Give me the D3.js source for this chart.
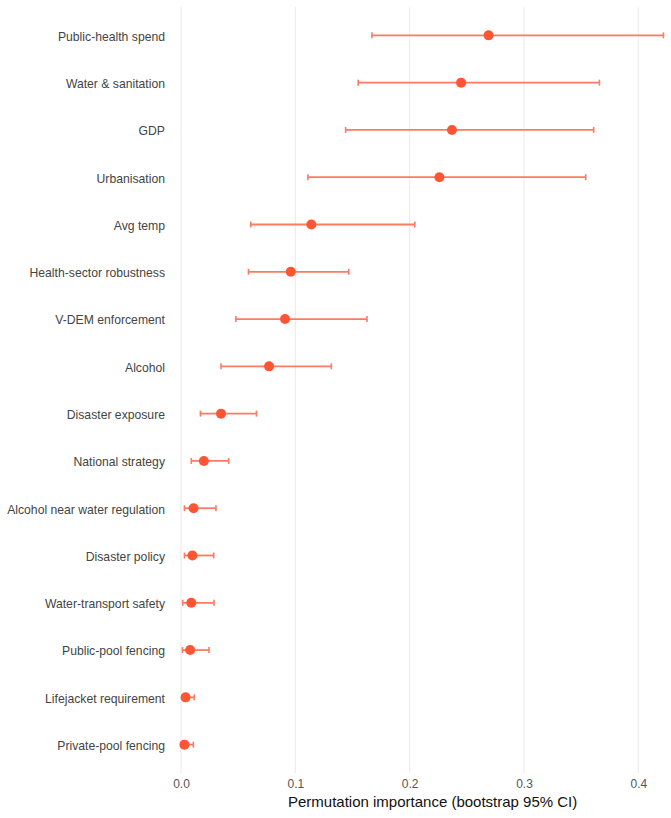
<!DOCTYPE html>
<html><head><meta charset="utf-8">
<script src="https://cdn.jsdelivr.net/npm/d3@7"></script>
<style>body{margin:0;background:#fff;} svg{display:block;}</style>
</head><body>
<svg id="chart" width="671" height="818"></svg>
<script>
const features = ["Public-health spend","Water & sanitation","GDP","Urbanisation","Avg temp","Health-sector robustness","V-DEM enforcement","Alcohol","Disaster exposure","National strategy","Alcohol near water regulation","Disaster policy","Water-transport safety","Public-pool fencing","Lifejacket requirement","Private-pool fencing"];
const importance = [0.269,0.245,0.237,0.226,0.114,0.096,0.091,0.077,0.035,0.020,0.011,0.010,0.009,0.008,0.004,0.003];
const ciLow = [0.167,0.155,0.144,0.111,0.061,0.059,0.048,0.035,0.017,0.009,0.003,0.003,0.0015,0.0012,0.001,0.0005];
const ciHigh = [0.422,0.366,0.361,0.354,0.2045,0.1467,0.1627,0.1315,0.066,0.0417,0.0306,0.0286,0.0289,0.0245,0.0116,0.0108];
const xTicks = [0.0,0.1,0.2,0.3,0.4];

const FONT = "Liberation Sans, Arial, sans-serif";
const svg = d3.select("#chart");
const x = d3.scaleLinear().domain([0,0.4]).range([181,638.3]);
const y = d3.scalePoint().domain(features).range([7,773]).padding(0.6);

// gridlines
svg.append("g").selectAll("line").data(xTicks).join("line")
  .attr("x1",d=>x(d)).attr("x2",d=>x(d)).attr("y1",7).attr("y2",773)
  .attr("stroke","#ebebeb").attr("stroke-width",1.1);

// x axis labels
const xAxis = d3.axisBottom(x).tickValues(xTicks).tickFormat(d3.format(".1f")).tickSize(0).tickPadding(0);
const gx = svg.append("g").attr("transform","translate(0,779)").call(xAxis);
gx.select(".domain").remove();
gx.selectAll("text").attr("fill","#555").attr("font-family",FONT).attr("font-size",12).attr("dy","0.71em");

// y axis labels
const yAxis = d3.axisLeft(y).tickSize(0).tickPadding(0);
const gy = svg.append("g").attr("transform","translate(165,0)").call(yAxis);
gy.select(".domain").remove();
gy.selectAll("text").attr("fill","#444").attr("font-family",FONT).attr("font-size",12.2).attr("dy","0.4em");

// axis title
svg.append("text").attr("x",x(0.2)+23).attr("y",807).attr("text-anchor","middle")
  .attr("font-family",FONT).attr("font-size",15).attr("fill","#111")
  .text("Permutation importance (bootstrap 95% CI)");

const rows = features.map((f,i)=>({f, v:importance[i], lo:ciLow[i], hi:ciHigh[i]}));
const ebColor = "#ff7a62";
const g = svg.append("g");
g.selectAll("line.eb").data(rows).join("line").attr("class","eb")
  .attr("x1",d=>x(d.lo)).attr("x2",d=>x(d.hi)).attr("y1",d=>y(d.f)).attr("y2",d=>y(d.f))
  .attr("stroke",ebColor).attr("stroke-width",1.8);
g.selectAll("line.capl").data(rows).join("line").attr("class","capl")
  .attr("x1",d=>x(d.lo)).attr("x2",d=>x(d.lo)).attr("y1",d=>y(d.f)-3).attr("y2",d=>y(d.f)+3)
  .attr("stroke",ebColor).attr("stroke-width",1.6);
g.selectAll("line.caph").data(rows).join("line").attr("class","caph")
  .attr("x1",d=>x(d.hi)).attr("x2",d=>x(d.hi)).attr("y1",d=>y(d.f)-3).attr("y2",d=>y(d.f)+3)
  .attr("stroke",ebColor).attr("stroke-width",1.6);
g.selectAll("circle").data(rows).join("circle")
  .attr("cx",d=>x(d.v)).attr("cy",d=>y(d.f)).attr("r",5)
  .attr("fill","#ff5534");
</script>
</body></html>
